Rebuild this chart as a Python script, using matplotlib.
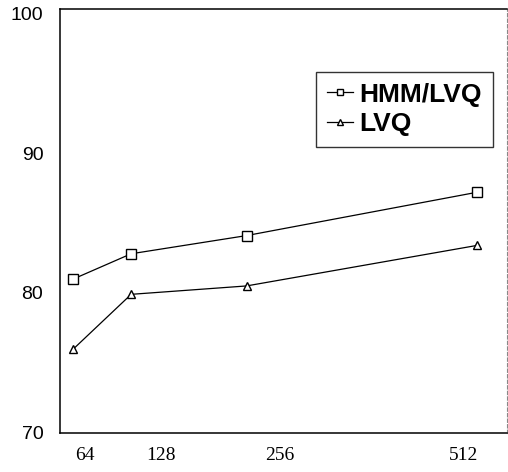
import matplotlib
matplotlib.use("Agg")
import matplotlib.pyplot as plt

# data
codebook_sizes = [64, 128, 256, 512]
hmm_lvq = [81.0, 82.8, 84.1, 87.2]
lvq = [76.0, 79.9, 80.5, 83.4]
series_labels = ["HMM/LVQ", "LVQ"]
x_tick_labels = ["64", "128", "256", "512"]
y_ticks = [70, 80, 90, 100]

# label placement (labels in the scanned source are offset from points)
x_tick_positions = [77, 161, 293, 497]

fig = plt.figure(figsize=(5.08, 4.72), dpi=100)
ax = fig.add_axes([0.118, 0.083, 0.880, 0.898])

ax.plot(codebook_sizes, hmm_lvq, color="black", lw=0.9, marker="s",
        markersize=7, markerfacecolor="white", markeredgewidth=1.0,
        label=series_labels[0])
ax.plot(codebook_sizes, lvq, color="black", lw=0.9, marker="^",
        markersize=5.5, markerfacecolor="white", markeredgewidth=1.0,
        label=series_labels[1])

ax.set_xlim(49, 545)
ax.set_ylim(70, 100.3)

ax.set_yticks(y_ticks)
ax.set_yticklabels([str(v) for v in y_ticks], family="Liberation Sans",
                   fontsize=14)
ax.set_xticks(x_tick_positions)
ax.set_xticklabels(x_tick_labels, family="Liberation Serif", fontsize=14)
ax.tick_params(axis="both", length=0)
ax.tick_params(axis="y", pad=12)
ax.tick_params(axis="x", pad=10.5)

for side in ["left", "bottom", "top"]:
    ax.spines[side].set_linewidth(1.1)
ax.spines["right"].set_linewidth(0.8)
ax.spines["right"].set_color("#888888")
ax.spines["right"].set_linestyle((0, (3, 2)))

leg = ax.legend(loc="upper left", bbox_to_anchor=(0.573, 0.851),
                frameon=True, fancybox=False, edgecolor="black",
                prop={"family": "Liberation Sans", "size": 19,
                      "weight": "bold"},
                handlelength=1.0, handletextpad=0.25, borderpad=0.4,
                labelspacing=0.2, borderaxespad=0, markerscale=0.7)
leg.get_frame().set_linewidth(1.0)

fig.savefig("out.png", dpi=100)
